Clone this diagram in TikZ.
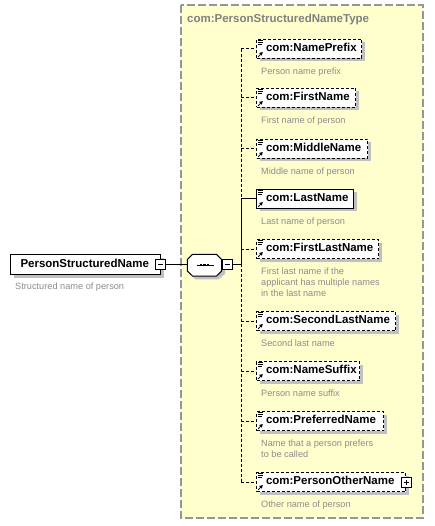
\documentclass[tikz,border=0pt]{standalone}
\usepackage{fontspec}
\setmainfont{Liberation Sans}
\usetikzlibrary{shadows}
\definecolor{bgy}{RGB}{255,255,206}
\definecolor{shd}{RGB}{192,192,192}
\definecolor{dsc}{RGB}{140,140,140}
\definecolor{brd}{RGB}{150,150,150}
\definecolor{ttl}{RGB}{128,128,128}
\tikzset{
  x=1pt, y=-1pt,
  elem/.style={draw=black, fill=white, line width=1pt, anchor=north west,
    minimum height=19pt, inner xsep=0pt, inner ysep=0pt, align=left,
    text height=8pt, text depth=2.5pt,
    font=\fontsize{11.5}{13}\selectfont\bfseries,
    general shadow={fill=shd, shadow xshift=3pt, shadow yshift=-3pt}},
  optb/.style={dash pattern=on 3pt off 2pt},
  desc/.style={anchor=base west, inner sep=0pt, text=dsc,
    font=\fontsize{9.2}{11}\selectfont, align=left},
  conn/.style={line width=1pt},
  optc/.style={conn, dash pattern=on 3pt off 2pt},
  pm/.style={draw=black, fill=white, line width=1pt, minimum size=10pt, inner sep=0pt},
}
\newcommand\xicon[1]{%
  \begin{scope}[shift={(#1.north west)}, line width=0.8pt]
    \draw (1.5,1.5) -- (6.5,1.5);
    \draw (1.5,3.4) -- (6.5,3.4);
    \draw (1.5,5.3) -- (6,5.3);
    \draw (2.2,17.8) -- (5,14.8);
    \fill (6.8,13) -- (3.2,14) -- (5.8,16.6) -- cycle;
  \end{scope}}
\newcommand\xchild[5]{%
  \node[elem, text width=#3pt, #5] (#1) at (256,#2) {\hspace*{9.5pt}#4};
  \xicon{#1}}
\begin{document}
\begin{tikzpicture}
\useasboundingbox (0,0) rectangle (434,526);
% container
\draw[fill=bgy, draw=brd, line width=1.3pt, dash pattern=on 8pt off 3pt]
  (181,5) rectangle (423,518);
\node[anchor=base west, inner sep=0pt, text=ttl, font=\fontsize{11.5}{13}\selectfont\bfseries]
  (title) at (187,23) {com:PersonStructuredNameType};

% main element
\node[elem, minimum height=20pt, text width=150pt] (main) at (10,254) {\hspace*{10pt}PersonStructuredName};
\node[desc] (maind) at (15,289) {Structured name of person};
\node[pm] (m1) at (160.5,264) {};
\draw[line width=1pt] ([xshift=-2.5pt]m1.center) -- ([xshift=2.5pt]m1.center);

% sequence compositor
\node[minimum width=35pt, minimum height=22pt, inner sep=0pt] (seq) at (204.5,265) {};
\fill[shd] (195.3,257.3) -- (218.3,257.3) -- (225,263) -- (225,274) -- (218.3,279.3) -- (195.3,279.3) -- (190.3,274) -- (190.3,263) -- cycle;
\draw[fill=white, line width=1pt] (192.5,254.3) -- (216.5,254.3) -- (221.7,259.5) -- (221.7,271) -- (216.5,276) -- (192.5,276) -- (187.3,271) -- (187.3,259.5) -- cycle;
\draw[line width=1pt] (196.5,265) -- (213.5,265);
\fill (199.8,264) rectangle (202,266.2);
\fill (203.3,264) rectangle (205.5,266.2);
\fill (206.8,264) rectangle (209,266.2);
\node[pm] (m2) at (227,264) {};
\draw[line width=1pt] ([xshift=-2.5pt]m2.center) -- ([xshift=2.5pt]m2.center);

\draw[conn] (m1.east) -- (m1.east -| seq.west);
\coordinate (tr) at (241,264);
\draw[conn] (m2.east) -- (tr);

% children
\xchild{c1}{39}{105}{com:NamePrefix}{optb}
\xchild{c2}{88}{99}{com:FirstName}{optb}
\xchild{c3}{139}{111}{com:MiddleName}{optb}
\xchild{c4}{189}{97}{com:LastName}{}
\xchild{c5}{239}{122}{com:FirstLastName}{optb}
\xchild{c6}{311}{139}{com:SecondLastName}{optb}
\xchild{c7}{361}{103}{com:NameSuffix}{optb}
\xchild{c8}{411}{127}{com:PreferredName}{optb}
\xchild{c9}{472}{149}{com:PersonOtherName}{optb}
\node[pm] (p9) at (406,482) {};
\draw[line width=1pt] ([xshift=-2.5pt]p9.center) -- ([xshift=2.5pt]p9.center);
\draw[line width=1pt] ([yshift=-2.5pt]p9.center) -- ([yshift=2.5pt]p9.center);

% descriptions (base anchor = baseline of last line)
\node[desc] (d1) at (261,74.5) {Person name prefix};
\node[desc] (d2) at (261,123.5) {First name of person};
\node[desc] (d3) at (261,174.5) {Middle name of person};
\node[desc] (d4) at (261,224.5) {Last name of person};
\node[desc] (d5) at (261,296.5) {First last name if the\\applicant has multiple names\\in the last name};
\node[desc] (d6) at (261,346.5) {Second last name};
\node[desc] (d7) at (261,396.5) {Person name suffix};
\node[desc] (d8) at (261,457.5) {Name that a person prefers\\to be called};
\node[desc] (d9) at (261,507.5) {Other name of person};

% trunk and branches
\draw[optc] (tr |- c1.west) -- (tr |- c4.west);
\draw[conn] (tr |- c4.west) -- (tr);
\draw[optc] (tr) -- (tr |- c9.west);
\foreach \c in {c1,c2,c3,c5,c6,c7,c8,c9}
  \draw[optc] (tr |- \c.west) -- (\c.west);
\draw[conn] (tr |- c4.west) -- (c4.west);
\end{tikzpicture}
\end{document}
